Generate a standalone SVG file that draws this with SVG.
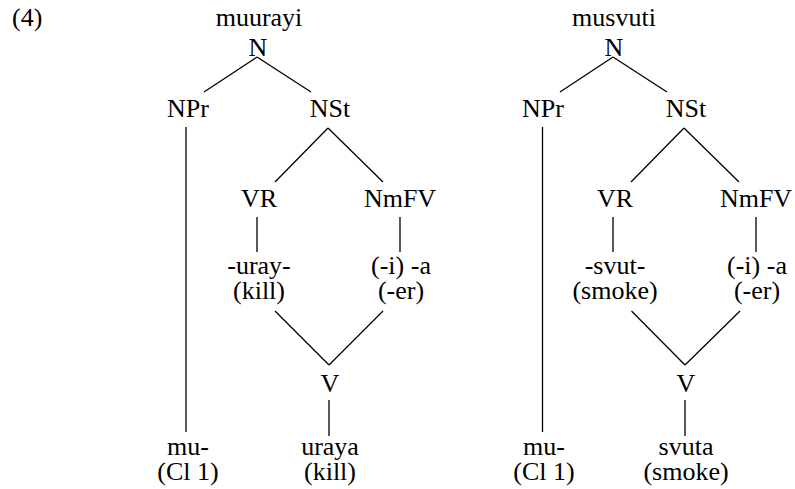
<svg xmlns="http://www.w3.org/2000/svg" width="795" height="489" viewBox="0 0 795 489">
<rect width="795" height="489" fill="#fff"/>
<text font-family="Liberation Serif" font-size="26" x="12" y="26">(4)</text>
<g id="tree1">
<g id="t1-N"><text font-family="Liberation Serif" font-size="26" text-anchor="middle" x="259" y="26">muurayi</text><text font-family="Liberation Serif" font-size="26" text-anchor="middle" x="258" y="56">N</text></g>
<g id="t1-NPr"><text font-family="Liberation Serif" font-size="26" text-anchor="middle" x="188" y="117">NPr</text></g>
<g id="t1-NSt"><text font-family="Liberation Serif" font-size="26" text-anchor="middle" x="330" y="117">NSt</text></g>
<g id="t1-VR"><text font-family="Liberation Serif" font-size="26" text-anchor="middle" x="259" y="207">VR</text></g>
<g id="t1-NmFV"><text font-family="Liberation Serif" font-size="26" text-anchor="middle" x="400" y="207">NmFV</text></g>
<g id="t1-root"><text font-family="Liberation Serif" font-size="26" text-anchor="middle" x="259" y="274">-uray-</text><text font-family="Liberation Serif" font-size="26" text-anchor="middle" x="259" y="299">(kill)</text></g>
<g id="t1-suffix"><text font-family="Liberation Serif" font-size="26" text-anchor="middle" x="401" y="274">(-i) -a</text><text font-family="Liberation Serif" font-size="26" text-anchor="middle" x="401" y="299">(-er)</text></g>
<g id="t1-V"><text font-family="Liberation Serif" font-size="26" text-anchor="middle" x="330" y="392">V</text></g>
<g id="t1-mu"><text font-family="Liberation Serif" font-size="26" text-anchor="middle" x="188" y="455">mu-</text><text font-family="Liberation Serif" font-size="26" text-anchor="middle" x="188" y="480">(Cl 1)</text></g>
<g id="t1-uraya"><text font-family="Liberation Serif" font-size="26" text-anchor="middle" x="330" y="455">uraya</text><text font-family="Liberation Serif" font-size="26" text-anchor="middle" x="330" y="480">(kill)</text></g>
</g>
<g id="tree2">
<g id="t2-N"><text font-family="Liberation Serif" font-size="26" text-anchor="middle" x="614" y="26">musvuti</text><text font-family="Liberation Serif" font-size="26" text-anchor="middle" x="614" y="56">N</text></g>
<g id="t2-NPr"><text font-family="Liberation Serif" font-size="26" text-anchor="middle" x="543" y="117">NPr</text></g>
<g id="t2-NSt"><text font-family="Liberation Serif" font-size="26" text-anchor="middle" x="686" y="117">NSt</text></g>
<g id="t2-VR"><text font-family="Liberation Serif" font-size="26" text-anchor="middle" x="615" y="207">VR</text></g>
<g id="t2-NmFV"><text font-family="Liberation Serif" font-size="26" text-anchor="middle" x="756" y="207">NmFV</text></g>
<g id="t2-root"><text font-family="Liberation Serif" font-size="26" text-anchor="middle" x="615" y="274">-svut-</text><text font-family="Liberation Serif" font-size="26" text-anchor="middle" x="615" y="299">(smoke)</text></g>
<g id="t2-suffix"><text font-family="Liberation Serif" font-size="26" text-anchor="middle" x="757" y="274">(-i) -a</text><text font-family="Liberation Serif" font-size="26" text-anchor="middle" x="757" y="299">(-er)</text></g>
<g id="t2-V"><text font-family="Liberation Serif" font-size="26" text-anchor="middle" x="686" y="392">V</text></g>
<g id="t2-mu"><text font-family="Liberation Serif" font-size="26" text-anchor="middle" x="544" y="455">mu-</text><text font-family="Liberation Serif" font-size="26" text-anchor="middle" x="544" y="480">(Cl 1)</text></g>
<g id="t2-svuta"><text font-family="Liberation Serif" font-size="26" text-anchor="middle" x="686" y="455">svuta</text><text font-family="Liberation Serif" font-size="26" text-anchor="middle" x="686" y="480">(smoke)</text></g>
</g>
<g id="connectors" stroke="#000" stroke-width="1.3" fill="none">
<line x1="257" y1="57" x2="204" y2="92"/>
<line x1="257" y1="57" x2="311" y2="92"/>
<line x1="186" y1="127" x2="186" y2="432"/>
<line x1="328" y1="128" x2="275" y2="182"/>
<line x1="328" y1="128" x2="383" y2="182"/>
<line x1="257" y1="217" x2="257" y2="252"/>
<line x1="400" y1="217" x2="400" y2="252"/>
<line x1="275" y1="311" x2="329" y2="365"/>
<line x1="383" y1="311" x2="329" y2="365"/>
<line x1="329" y1="400" x2="329" y2="436"/>
<line x1="613" y1="57" x2="560" y2="92"/>
<line x1="613" y1="57" x2="667" y2="92"/>
<line x1="542.5" y1="127" x2="542.5" y2="432"/>
<line x1="684" y1="128" x2="631" y2="182"/>
<line x1="684" y1="128" x2="739" y2="182"/>
<line x1="613" y1="217" x2="613" y2="252"/>
<line x1="756" y1="217" x2="756" y2="252"/>
<line x1="631.5" y1="311" x2="685" y2="365"/>
<line x1="740" y1="311" x2="685" y2="365"/>
<line x1="685" y1="400" x2="685" y2="436"/>
</g>
</svg>
